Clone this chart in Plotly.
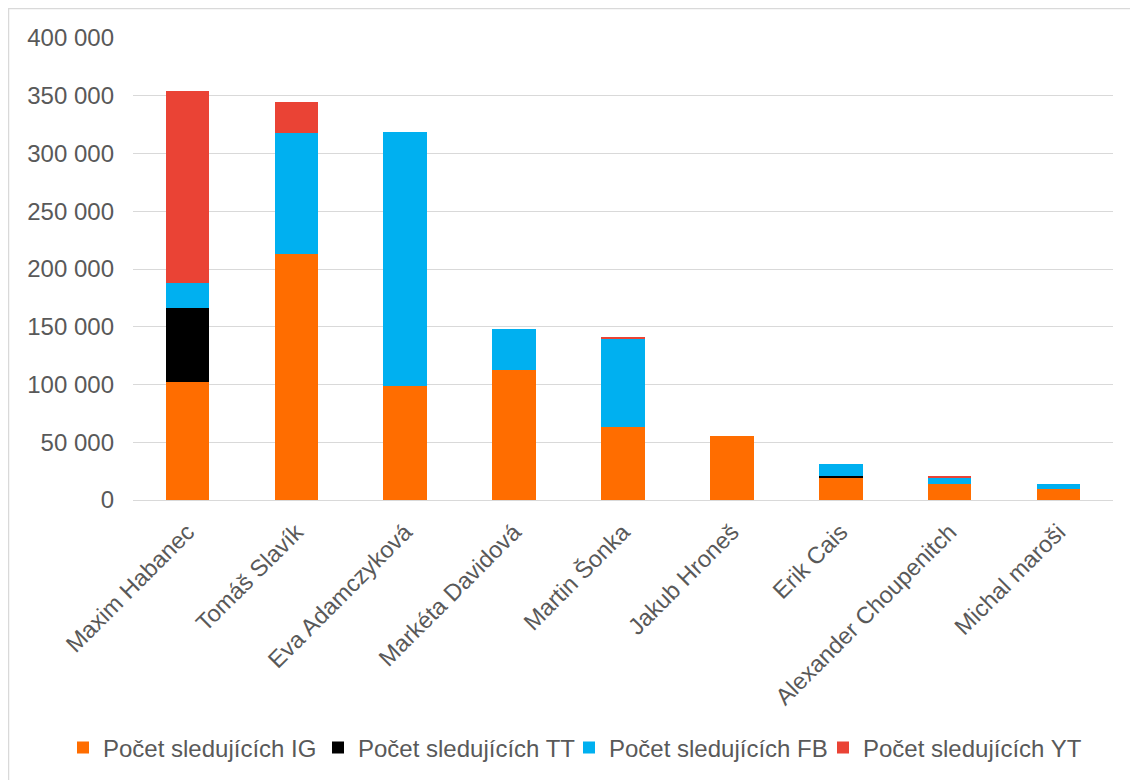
import plotly.graph_objects as go

names = ["Maxim Habanec", "Tomáš Slavík", "Eva Adamczyková", "Markéta Davidová",
         "Martin Šonka", "Jakub Hroneš", "Erik Cais", "Alexander Choupenitch", "Michal maroši"]
ig = [102000, 213000, 98500, 112500, 63000, 55500, 19500, 14200, 9900]
tt = [64000, 0, 0, 0, 0, 0, 1000, 0, 0]
fb = [22000, 104500, 220000, 35500, 76500, 0, 11000, 5200, 3700]
yt = [166000, 27000, 0, 0, 1500, 0, 0, 900, 0]

series = [
    ("Počet sledujících IG", ig, "#FF6D00"),
    ("Počet sledujících TT", tt, "#000000"),
    ("Počet sledujících FB", fb, "#00B0F0"),
    ("Počet sledujících YT", yt, "#EA4335"),
]

font = "Liberation Sans, Arial, sans-serif"
legend_ids = ["legend", "legend2", "legend3", "legend4"]
fig = go.Figure()
for (nm, vals, col), lid in zip(series, legend_ids):
    fig.add_trace(go.Bar(x=names, y=vals, name=nm, legend=lid,
                         marker=dict(color=col, line=dict(width=0))))

# the page has an 8px body margin; figure origin sits at (8, 8)
W, H = 1130, 772
ml, mr, mt, mb = 125, 25, 30, 280
pw, ph = W - ml - mr, H - mt - mb

# left edges (figure px) of each legend box
leg_left = [55, 310, 561, 815]
legends = {}
for lid, lx in zip(legend_ids, leg_left):
    legends[lid] = dict(orientation="h", xref="container", yref="container",
                        x=lx / W, xanchor="left", y=1 - 740 / H, yanchor="middle",
                        font=dict(size=24, color="#595959"), itemwidth=30,
                        bgcolor="rgba(0,0,0,0)")

fig.update_layout(
    width=W, height=H, barmode="stack", bargap=0.6,
    paper_bgcolor="white", plot_bgcolor="white",
    margin=dict(l=ml, r=mr, t=mt, b=mb, autoexpand=False),
    font=dict(family=font, size=23, color="#595959"),
    yaxis=dict(range=[0, 400000], tickvals=[0, 50000, 100000, 150000, 200000, 250000, 300000, 350000, 400000],
               ticktext=["0", "50 000", "100 000", "150 000", "200 000", "250 000", "300 000", "350 000", "400 000"],
               showgrid=True, gridcolor="#D9D9D9", gridwidth=1, zeroline=False, showline=False,
               ticks="", ticklen=0, automargin=False, ticklabelstandoff=18,
               tickfont=dict(size=24, color="#595959")),
    xaxis=dict(tickangle=-45, showline=True, linecolor="#D9D9D9", linewidth=1, ticks="",
               automargin=False, ticklabelstandoff=8,
               tickfont=dict(size=23.5, color="#595959")),
    showlegend=True,
    **legends,
)
fig.add_shape(type="rect", xref="paper", yref="paper",
              x0=-(ml - 0.5) / pw, x1=(W - ml + 20) / pw,
              y0=-(mb + 20) / ph, y1=1 + (mt - 0.5) / ph,
              line=dict(color="#D9D9D9", width=1.5), fillcolor="rgba(0,0,0,0)", layer="below")
fig.write_html("out.html")
